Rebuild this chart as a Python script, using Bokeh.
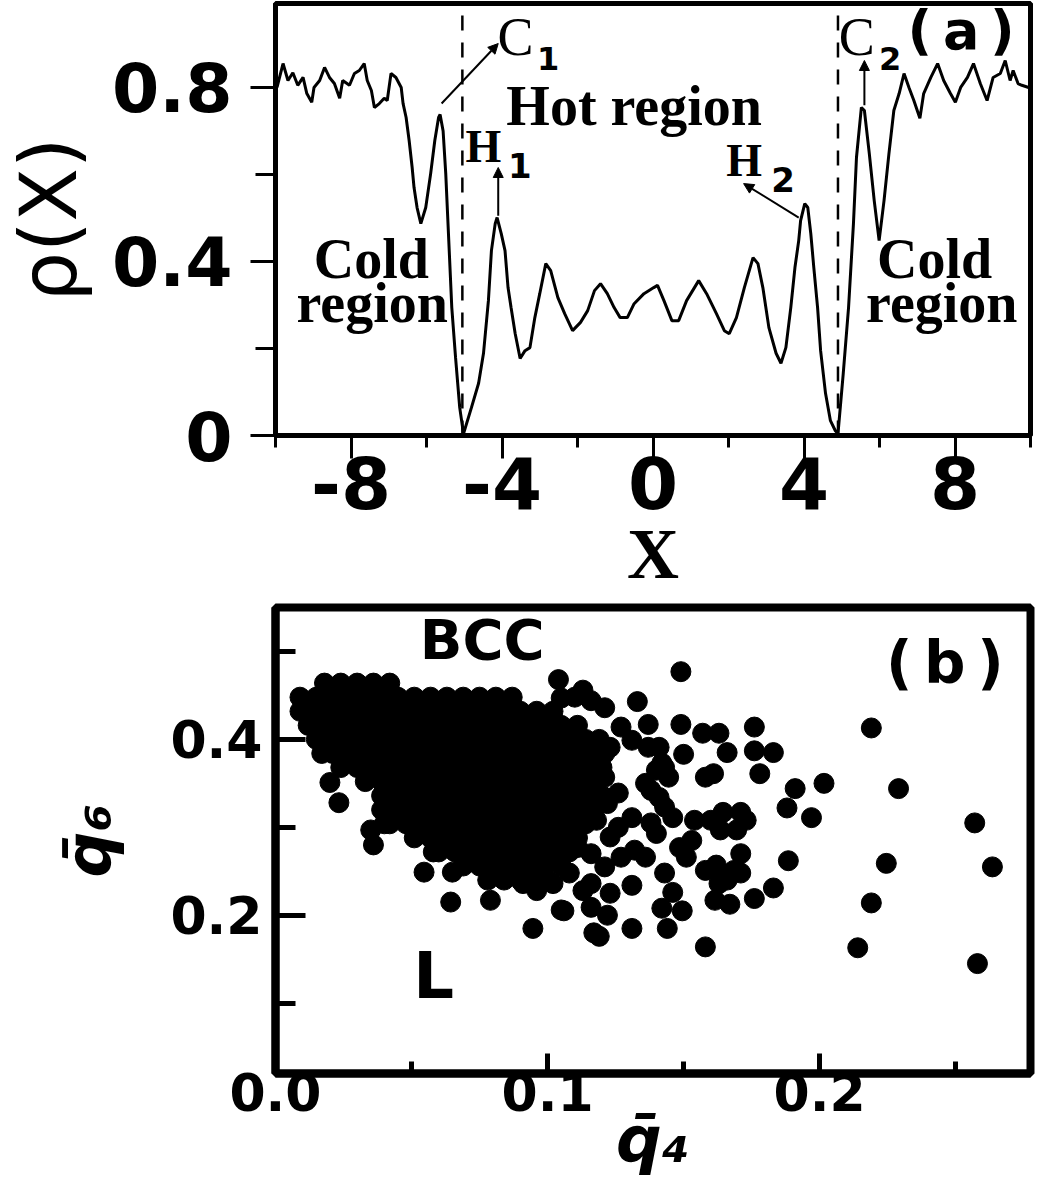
from bokeh.plotting import figure
from bokeh.layouts import column
from bokeh.models import FixedTicker, Label, Arrow, NormalHead, Range1d
from bokeh.embed import file_html
from bokeh.resources import INLINE

# ---------------- panel (a) data ----------------
rho_x = [-9.96, -9.80, -9.67, -9.54, -9.41, -9.27, -9.17, -9.04, -8.98, -8.83, -8.70, -8.57, -8.44,
         -8.30, -8.22, -8.04, -7.91, -7.78, -7.65, -7.57, -7.46, -7.38, -7.25, -7.12, -7.04, -6.94,
         -6.81, -6.67, -6.62, -6.54, -6.46, -6.38, -6.33, -6.25, -6.15, -6.02, -5.89, -5.78, -5.68,
         -5.64, -5.56, -5.49, -5.41, -5.33, -5.23, -5.12, -5.02, -4.81, -4.62, -4.49, -4.36, -4.28,
         -4.18, -4.13, -4.02, -3.92, -3.84, -3.76, -3.65, -3.52, -3.39, -3.26, -3.13, -3.00, -2.84,
         -2.71, -2.52, -2.34, -2.13, -1.92, -1.73, -1.55, -1.39, -1.21, -1.03, -0.87, -0.68, -0.50,
         -0.24, 0.02, 0.12, 0.29, 0.50, 0.68, 0.89, 1.21, 1.42, 1.68, 1.89, 2.02, 2.21, 2.42, 2.65,
         2.78, 2.91, 3.07, 3.26, 3.39, 3.52, 3.65, 3.76, 3.86, 3.91, 4.02, 4.10, 4.18, 4.26, 4.36,
         4.44, 4.57, 4.70, 4.83, 4.90, 5.04, 5.18, 5.31, 5.39, 5.52, 5.60, 5.73, 5.86, 5.99, 6.12,
         6.25, 6.38, 6.52, 6.65, 6.78, 6.91, 7.07, 7.17, 7.36, 7.54, 7.70, 7.88, 8.01, 8.15, 8.33,
         8.49, 8.67, 8.85, 9.01, 9.20, 9.33, 9.46, 9.54, 9.67, 9.77, 9.95]
rho_y = [0.800, 0.855, 0.816, 0.834, 0.805, 0.823, 0.786, 0.766, 0.800, 0.816, 0.846, 0.823, 0.809,
         0.775, 0.816, 0.805, 0.832, 0.839, 0.855, 0.816, 0.793, 0.754, 0.763, 0.775, 0.770, 0.832,
         0.823, 0.800, 0.763, 0.731, 0.678, 0.616, 0.570, 0.524, 0.487, 0.524, 0.602, 0.678, 0.731,
         0.738, 0.700, 0.602, 0.448, 0.294, 0.179, 0.064, 0.004, 0.064, 0.120, 0.189, 0.310, 0.425,
         0.487, 0.501, 0.464, 0.425, 0.340, 0.294, 0.234, 0.177, 0.195, 0.202, 0.271, 0.326, 0.395,
         0.379, 0.317, 0.280, 0.241, 0.260, 0.287, 0.333, 0.349, 0.326, 0.294, 0.271, 0.271, 0.303,
         0.326, 0.340, 0.345, 0.310, 0.264, 0.264, 0.310, 0.356, 0.326, 0.280, 0.241, 0.234, 0.271,
         0.340, 0.409, 0.395, 0.340, 0.248, 0.189, 0.166, 0.202, 0.294, 0.386, 0.448, 0.494, 0.533,
         0.524, 0.464, 0.386, 0.294, 0.195, 0.097, 0.034, 0.011, 0.004, 0.143, 0.294, 0.487, 0.639,
         0.754, 0.747, 0.648, 0.540, 0.448, 0.540, 0.648, 0.747, 0.786, 0.832, 0.800, 0.770, 0.729,
         0.786, 0.823, 0.855, 0.816, 0.786, 0.766, 0.800, 0.823, 0.855, 0.809, 0.770, 0.823, 0.832,
         0.862, 0.816, 0.839, 0.809, 0.805, 0.800]
boundary_x = [-5.05, 4.90]
x_major_a = [-8, -4, 0, 4, 8]
x_minor_a = [-10, -6, -2, 2, 6, 10]
x_labels_a = {-8: "-8", -4: "-4", 0: "0", 4: "4", 8: "8"}
y_major_a = [0, 0.4, 0.8]
y_minor_a = [0.2, 0.6]
y_labels_a = {0: "0"}

# ---------------- panel (b) data ----------------
dense_q6 = [0.464, 0.448, 0.432, 0.416, 0.400, 0.384, 0.368, 0.352, 0.336, 0.320, 0.304, 0.288,
            0.272, 0.256, 0.240]
dense_q4 = [
    [0.018, 0.024, 0.030, 0.036, 0.042],
    [0.009, 0.015, 0.021, 0.027, 0.033, 0.039, 0.045, 0.051, 0.057, 0.063, 0.069, 0.075, 0.081, 0.087],
    [0.009, 0.012, 0.018, 0.024, 0.030, 0.036, 0.042, 0.048, 0.054, 0.060, 0.066, 0.072, 0.078, 0.084, 0.090, 0.096, 0.102],
    [0.012, 0.015, 0.021, 0.027, 0.033, 0.039, 0.045, 0.051, 0.057, 0.063, 0.069, 0.075, 0.081, 0.087, 0.093, 0.099, 0.105, 0.111],
    [0.015, 0.018, 0.024, 0.030, 0.036, 0.042, 0.048, 0.054, 0.060, 0.066, 0.072, 0.078, 0.084, 0.090, 0.096, 0.102, 0.108, 0.114, 0.119],
    [0.017, 0.021, 0.027, 0.033, 0.039, 0.045, 0.051, 0.057, 0.063, 0.069, 0.075, 0.081, 0.087, 0.093, 0.099, 0.105, 0.111, 0.117, 0.121],
    [0.024, 0.030, 0.036, 0.042, 0.048, 0.054, 0.060, 0.066, 0.072, 0.078, 0.084, 0.090, 0.096, 0.102, 0.108, 0.114, 0.120],
    [0.033, 0.039, 0.045, 0.051, 0.057, 0.063, 0.069, 0.075, 0.081, 0.087, 0.093, 0.099, 0.105, 0.111, 0.117],
    [0.039, 0.042, 0.048, 0.054, 0.060, 0.066, 0.072, 0.078, 0.084, 0.090, 0.096, 0.102, 0.108, 0.114, 0.120],
    [0.039, 0.045, 0.051, 0.057, 0.063, 0.069, 0.075, 0.081, 0.087, 0.093, 0.099, 0.105, 0.111, 0.117],
    [0.040, 0.042, 0.048, 0.054, 0.060, 0.066, 0.072, 0.078, 0.084, 0.090, 0.096, 0.102, 0.108, 0.114],
    [0.051, 0.057, 0.063, 0.069, 0.075, 0.081, 0.087, 0.093, 0.099, 0.105, 0.111],
    [0.058, 0.060, 0.066, 0.072, 0.078, 0.084, 0.090, 0.096, 0.102, 0.108],
    [0.069, 0.075, 0.081, 0.087, 0.093, 0.099, 0.105],
    [0.078, 0.084, 0.090, 0.096, 0.100],
]
sparse_q4 = [0.020, 0.0233, 0.035, 0.036, 0.0546, 0.065, 0.0644, 0.079, 0.0946, 0.105, 0.116, 0.117,
             0.119, 0.122, 0.131, 0.144, 0.142, 0.1495, 0.146, 0.143,
             0.104, 0.113, 0.110, 0.116, 0.121, 0.133, 0.149, 0.105,
             0.127, 0.137, 0.149, 0.131, 0.123, 0.137, 0.141,
             0.157, 0.163, 0.176, 0.219,
             0.150, 0.166, 0.176, 0.183,
             0.117, 0.121, 0.142, 0.140, 0.136, 0.143, 0.1445,
             0.158, 0.161, 0.178,
             0.126, 0.138, 0.141, 0.143, 0.146, 0.122, 0.118,
             0.131, 0.126, 0.138, 0.140, 0.123,
             0.191, 0.2016, 0.229,
             0.188, 0.197, 0.257,
             0.154, 0.160, 0.1645, 0.171, 0.173, 0.1695, 0.1635,
             0.111, 0.116, 0.132, 0.136, 0.127, 0.121,
             0.1485, 0.151, 0.153, 0.171,
             0.158, 0.162, 0.1685, 0.171, 0.166, 0.163,
             0.131, 0.123, 0.108, 0.102, 0.096, 0.091, 0.116, 0.113,
             0.1885, 0.2245, 0.2635,
             0.183, 0.176, 0.1615, 0.167,
             0.219, 0.158, 0.214, 0.258,
             0.106]
sparse_q6 = [0.351, 0.328, 0.297, 0.280, 0.249, 0.249, 0.215, 0.217, 0.185, 0.206, 0.209, 0.180,
             0.176, 0.200, 0.185, 0.185, 0.208, 0.205, 0.226, 0.248,
             0.468, 0.456, 0.448, 0.444, 0.436, 0.443, 0.477, 0.447,
             0.414, 0.417, 0.417, 0.399, 0.391, 0.391, 0.391,
             0.407, 0.407, 0.414, 0.413,
             0.383, 0.385, 0.387, 0.385,
             0.373, 0.357, 0.373, 0.365, 0.350, 0.368, 0.357,
             0.357, 0.361, 0.361,
             0.339, 0.342, 0.334, 0.323, 0.311, 0.327, 0.308,
             0.311, 0.300, 0.305, 0.293, 0.289,
             0.344, 0.350, 0.344,
             0.322, 0.311, 0.305,
             0.308, 0.308, 0.317, 0.317, 0.308, 0.297, 0.297,
             0.277, 0.270, 0.274, 0.266, 0.266, 0.255,
             0.277, 0.266, 0.285, 0.270,
             0.251, 0.257, 0.251, 0.248, 0.240, 0.236,
             0.234, 0.225, 0.248, 0.236, 0.228, 0.236, 0.236, 0.228,
             0.262, 0.259, 0.255,
             0.231, 0.219, 0.217, 0.2125,
             0.214, 0.164, 0.163, 0.145,
             0.205]
x_major_b = [0.0, 0.1, 0.2]
x_minor_b = [0.05, 0.15, 0.25]
x_labels_b = {0: "0.0"}
y_major_b = [0.2, 0.4]
y_minor_b = [0.1, 0.3, 0.5]

q4_all = [x for row in dense_q4 for x in row] + sparse_q4
q6_all = [y for y, row in zip(dense_q6, dense_q4) for _ in row] + sparse_q6

SANS = "DejaVu Sans"
SERIF = "Liberation Serif"

# ---------------- panel (a) ----------------
pa = figure(width=1039, height=597, x_range=Range1d(-10, 10), y_range=Range1d(0, 0.993),
            output_backend="svg", toolbar_location=None,
            min_border_left=275, min_border_right=6, min_border_top=3, min_border_bottom=162)
pa.grid.visible = False
pa.outline_line_color = "black"
pa.outline_line_width = 5
pa.outline_line_alpha = 1.0
pa.background_fill_color = "white"
pa.border_fill_color = "white"

pa.xaxis.ticker = FixedTicker(ticks=x_major_a, minor_ticks=x_minor_a)
pa.yaxis.ticker = FixedTicker(ticks=y_major_a, minor_ticks=y_minor_a)
pa.xaxis.major_label_overrides = x_labels_a
pa.yaxis.major_label_overrides = y_labels_a
for ax in (pa.xaxis[0], pa.yaxis[0]):
    ax.axis_line_width = 5
    ax.axis_line_color = "black"
    ax.major_tick_line_width = 3
    ax.minor_tick_line_width = 3
    ax.major_tick_in = 0
    ax.minor_tick_in = 0
    ax.major_label_text_font = SANS
    ax.major_label_text_font_style = "bold"
    ax.major_label_text_font_size = "68px"
    ax.major_label_text_color = "black"
    ax.axis_label_text_color = "black"
pa.xaxis.major_label_text_font_size = "72px"
pa.xaxis.major_tick_out = 23
pa.xaxis.minor_tick_out = 12
pa.xaxis.major_label_standoff = -3
pa.xaxis.axis_label = "X"
pa.xaxis.axis_label_text_font = SERIF
pa.xaxis.axis_label_text_font_style = "bold"
pa.xaxis.axis_label_text_font_size = "72px"
pa.xaxis.axis_label_standoff = 2
pa.yaxis.major_tick_out = 25
pa.yaxis.minor_tick_out = 20
pa.yaxis.major_label_standoff = 18
pa.yaxis.axis_label = "\u03c1(X)"
pa.yaxis.axis_label_text_font = SANS
pa.yaxis.axis_label_text_font_style = "normal"
pa.yaxis.axis_label_text_font_size = "78px"
pa.yaxis.axis_label_standoff = 15

pa.line(rho_x, rho_y, line_color="black", line_width=3)
pa.segment(x0=boundary_x, y0=[0, 0], x1=boundary_x, y1=[0.972, 0.972],
           line_color="black", line_width=2.5, line_dash="15 12")

def lab(p, x, y, text, font, size, style="normal", align="left"):
    p.add_layout(Label(x=x, y=y, text=text, text_font=font, text_font_size=size,
                       text_font_style=style, text_align=align, text_baseline="alphabetic",
                       text_color="black"))

lab(pa, -0.5, 0.757, "Hot region", SERIF, "56px", "bold", "center")
lab(pa, -7.46, 0.405, "Cold", SERIF, "56px", "bold", "center")
lab(pa, -7.44, 0.304, "region", SERIF, "56px", "bold", "center")
lab(pa, 7.46, 0.405, "Cold", SERIF, "56px", "bold", "center")
lab(pa, 7.65, 0.304, "region", SERIF, "56px", "bold", "center")
lab(pa, -4.12, 0.916, "C", SERIF, "54px")
lab(pa, -3.07, 0.867, "1", SANS, "32px", "bold")
lab(pa, 4.92, 0.916, "C", SERIF, "54px")
lab(pa, 5.99, 0.867, "2", SANS, "32px", "bold")
lab(pa, -4.97, 0.665, "H", SERIF, "46px", "bold")
lab(pa, -3.84, 0.621, "1", SANS, "34px", "bold")
lab(pa, 1.94, 0.631, "H", SERIF, "46px", "bold")
lab(pa, 3.13, 0.589, "2", SANS, "34px", "bold")
lab(pa, 6.74, 0.932, "(\u2009a\u2009)", SANS, "54px", "bold")

for xs, ys, xe, ye in [(-5.60, 0.763, -4.10, 0.901), (-4.10, 0.505, -4.10, 0.616),
                       (3.86, 0.501, 2.40, 0.579), (5.60, 0.759, 5.60, 0.862)]:
    pa.add_layout(Arrow(end=NormalHead(size=10, fill_color="black", line_color="black"),
                        x_start=xs, y_start=ys, x_end=xe, y_end=ye,
                        line_color="black", line_width=2))

# ---------------- panel (b) ----------------
pb = figure(width=1039, height=586, x_range=Range1d(0, 0.2775), y_range=Range1d(0.02, 0.55),
            output_backend="svg", toolbar_location=None,
            min_border_left=271, min_border_right=9, min_border_top=10, min_border_bottom=110)
pb.grid.visible = False
pb.outline_line_color = "black"
pb.outline_line_width = 8
pb.outline_line_alpha = 1.0
pb.background_fill_color = "white"
pb.border_fill_color = "white"

pb.xaxis.ticker = FixedTicker(ticks=x_major_b, minor_ticks=x_minor_b)
pb.yaxis.ticker = FixedTicker(ticks=y_major_b, minor_ticks=y_minor_b)
pb.xaxis.major_label_overrides = x_labels_b
for ax in (pb.xaxis[0], pb.yaxis[0]):
    ax.axis_line_width = 8
    ax.axis_line_color = "black"
    ax.major_tick_line_width = 5
    ax.minor_tick_line_width = 5
    ax.major_tick_out = 0
    ax.minor_tick_out = 0
    ax.major_label_text_font = SANS
    ax.major_label_text_font_style = "bold"
    ax.major_label_text_font_size = "52px"
    ax.major_label_text_color = "black"
    ax.axis_label_text_font = SANS
    ax.axis_label_text_font_style = "bold italic"
    ax.axis_label_text_font_size = "64px"
    ax.axis_label_text_color = "black"
pb.xaxis.major_tick_in = 20
pb.xaxis.minor_tick_in = 12
pb.xaxis.major_label_standoff = -1
pb.xaxis.axis_label = "q\u0304\u2084"
pb.xaxis.axis_label_standoff = -11
pb.yaxis.major_tick_in = 30
pb.yaxis.minor_tick_in = 20
pb.yaxis.major_label_standoff = 13
pb.yaxis.axis_label = "q\u0304\u2086"
pb.yaxis.axis_label_standoff = 41

pb.scatter(q4_all, q6_all, size=20, marker="circle", fill_color="black", line_color="black")

lab(pb, 0.076, 0.514, "BCC", SANS, "56px", "bold", "center")
lab(pb, 0.246, 0.487, "(\u2009b\u2009)", SANS, "58px", "bold", "center")
lab(pb, 0.0506, 0.131, "L", SANS, "64px", "bold")

layout = column(pa, pb, spacing=0)
open("out.html", "w").write(file_html(layout, INLINE))
